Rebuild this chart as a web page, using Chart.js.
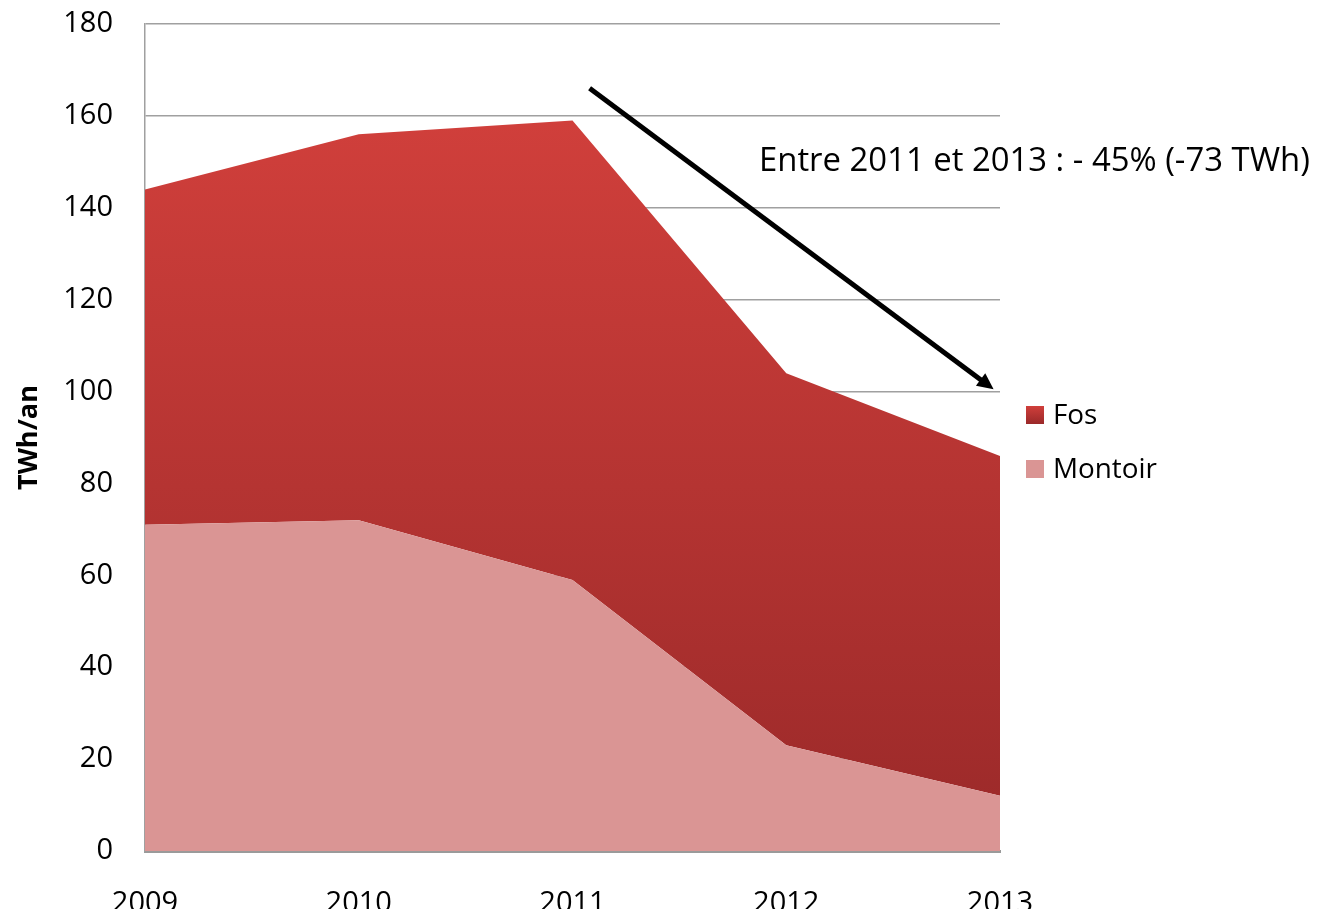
<!DOCTYPE html>
<html>
<head>
<meta charset="utf-8">
<style>
  html, body { margin: 0; padding: 0; background: #fff; }
  #wrap { width: 1322px; height: 909px; }
</style>
<script src="https://cdn.jsdelivr.net/npm/chart.js@4/dist/chart.umd.min.js"></script>
</head>
<body>
<div id="wrap"><canvas id="chart" width="1322" height="909"></canvas></div>
<script>
const years = ['2009', '2010', '2011', '2012', '2013'];
const montoir = [71, 72, 59, 23, 12];
const fos = [73, 84, 100, 81, 74];
const yTicks = [0, 20, 40, 60, 80, 100, 120, 140, 160, 180];
const note = 'Entre 2011 et 2013 : - 45% (-73 TWh)';

const FAMILY = '"Open Sans", "Liberation Sans", sans-serif';

// pick a font size so that a string spans a given width
function fitSize(text, width, weight) {
    const ctx = document.createElement('canvas').getContext('2d');
    ctx.font = (weight || '') + ' 100px ' + FAMILY;
    return 100 * width / ctx.measureText(text).width;
}

const tickSize = 29;
const titleSize = fitSize('TWh/an', 105, 'bold');
const legendSize = fitSize('Montoir', 104);
const noteSize = fitSize(note, 551);

function fosGradient(ctx, top, bottom) {
    const g = ctx.createLinearGradient(0, top, 0, bottom);
    g.addColorStop(0, '#D03F3B');
    g.addColorStop(1, '#9A2929');
    return g;
}

const overlay = {
    id: 'overlay',
    afterDatasetsDraw(chart) {
        const { ctx, scales: { x, y } } = chart;
        ctx.save();

        // arrow
        const x0 = x.getPixelForValue(2.08), y0 = y.getPixelForValue(166);
        const x1 = x.getPixelForValue(3.97), y1 = y.getPixelForValue(100.5);
        ctx.strokeStyle = '#000';
        ctx.fillStyle = '#000';
        ctx.lineWidth = 5;
        const ang = Math.atan2(y1 - y0, x1 - x0);
        const head = 18;
        ctx.beginPath();
        ctx.moveTo(x0, y0);
        ctx.lineTo(x1 - Math.cos(ang) * head * 0.8, y1 - Math.sin(ang) * head * 0.8);
        ctx.stroke();
        ctx.beginPath();
        ctx.moveTo(x1, y1);
        ctx.lineTo(x1 - head * Math.cos(ang - 0.45), y1 - head * Math.sin(ang - 0.45));
        ctx.lineTo(x1 - head * Math.cos(ang + 0.45), y1 - head * Math.sin(ang + 0.45));
        ctx.closePath();
        ctx.fill();

        // annotation
        ctx.font = noteSize + 'px ' + FAMILY;
        ctx.textBaseline = 'middle';
        ctx.textAlign = 'left';
        ctx.fillText(note, 759, 162);

        // legend
        const items = [
            { label: 'Fos', color: fosGradient(ctx, 406, 424) },
            { label: 'Montoir', color: '#DA9594' }
        ];
        ctx.font = legendSize + 'px ' + FAMILY;
        items.forEach((it, i) => {
            const cy = 415 + i * 54;
            ctx.fillStyle = it.color;
            ctx.fillRect(1026, cy - 9, 18, 18);
            ctx.fillStyle = '#000';
            ctx.fillText(it.label, 1053, cy + 1);
        });
        ctx.restore();
    }
};

new Chart(document.getElementById('chart'), {
    type: 'line',
    data: {
        labels: years,
        datasets: [
            {
                label: 'Montoir',
                data: montoir,
                fill: 'origin',
                backgroundColor: '#DA9594',
                borderWidth: 0,
                pointRadius: 0,
                tension: 0
            },
            {
                label: 'Fos',
                data: fos,
                fill: '-1',
                backgroundColor: (c) => {
                    const area = c.chart.chartArea;
                    if (!area) return '#C03836';
                    const y = c.chart.scales.y;
                    return fosGradient(c.chart.ctx, y.getPixelForValue(159), area.bottom);
                },
                borderWidth: 0,
                pointRadius: 0,
                tension: 0
            }
        ]
    },
    options: {
        responsive: false,
        animation: false,
        layout: { padding: { top: 24, right: 322, left: 0, bottom: 0 } },
        plugins: {
            legend: { display: false },
            tooltip: { enabled: false }
        },
        scales: {
            x: {
                offset: false,
                grid: { display: false, drawTicks: false },
                border: { display: true, color: '#9A9A9A', width: 3 },
                ticks: {
                    color: '#000',
                    padding: 35,
                    maxRotation: 0,
                    font: { family: FAMILY, size: tickSize }
                },
                afterFit: (s) => { s.height = 58; s.paddingLeft = 0; s.paddingRight = 0; }
            },
            y: {
                stacked: true,
                min: 0,
                max: 180,
                afterBuildTicks: (s) => { s.ticks = yTicks.map(v => ({ value: v })); },
                grid: { color: '#A0A0A0', lineWidth: 1.5, drawTicks: false },
                border: { display: true, color: '#A0A0A0', width: 1.5 },
                ticks: {
                    color: '#000',
                    padding: 32,
                    font: { family: FAMILY, size: tickSize }
                },
                title: {
                    display: true,
                    text: 'TWh/an',
                    color: '#000',
                    padding: { top: 13, bottom: 0 },
                    font: { family: FAMILY, size: titleSize, weight: 'bold' }
                },
                afterFit: (s) => { s.width = 145; s.paddingTop = 0; s.paddingBottom = 0; }
            }
        }
    },
    plugins: [overlay]
});
</script>
</body>
</html>
